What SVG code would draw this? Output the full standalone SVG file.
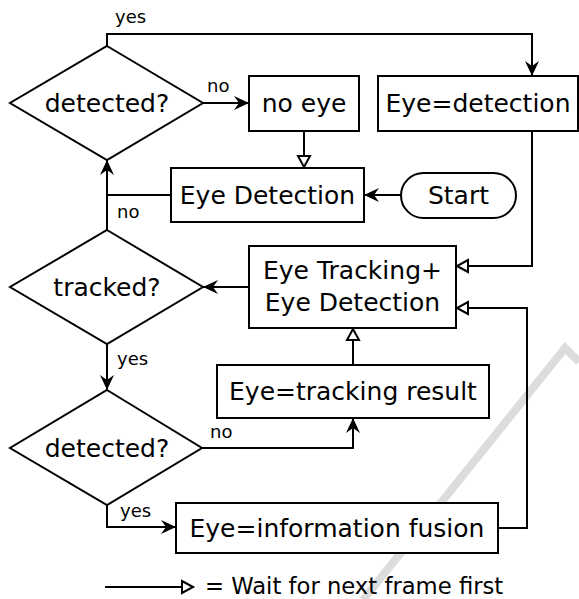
<svg xmlns="http://www.w3.org/2000/svg" width="579" height="599" viewBox="0 0 579 599">
<defs>
<style>
.box{fill:#fff;stroke:#000;stroke-width:2}
.t{font-family:"DejaVu Sans",sans-serif;font-size:25px;fill:#000;text-anchor:middle}
.lbl{font-family:"DejaVu Sans",sans-serif;font-size:18px;fill:#000}
.c{fill:none;stroke:#000;stroke-width:2}
.f{marker-end:url(#af)}
.h{marker-end:url(#ah)}
</style>
<marker id="af" markerUnits="userSpaceOnUse" viewBox="-16 -8 18 16" refX="0" refY="0" markerWidth="18" markerHeight="16" orient="auto" overflow="visible">
<path d="M0,0 L-15,-7 L-10,0 L-15,7 Z" fill="#000"/>
</marker>
<marker id="ah" markerUnits="userSpaceOnUse" viewBox="-14 -8 16 16" refX="0" refY="0" markerWidth="16" markerHeight="16" orient="auto" overflow="visible">
<path d="M-1,0 L-12,-6 L-12,6 Z" fill="#fff" stroke="#000" stroke-width="2" stroke-linejoin="miter"/>
</marker>
</defs>
<rect width="579" height="599" fill="#fff"/>
<g id="watermark">
<polyline points="363,600 565,348 579,362" fill="none" stroke="#dcdcdc" stroke-width="8"/>
</g>
<g id="connectors">
<path class="c f" d="M107,46 V34 H532 V76"/>
<path class="c f" d="M203,103 H249"/>
<path class="c h" d="M304,131 V168"/>
<path class="c f" d="M401,195 H364"/>
<path class="c" d="M171,195 H107"/>
<path class="c f" d="M107,230 V160"/>
<path class="c h" d="M532,131 V266 H456"/>
<path class="c f" d="M249,287 H203"/>
<path class="c f" d="M107,344 V390"/>
<path class="c h" d="M353,365 V328"/>
<path class="c f" d="M202,448 H353 V418"/>
<path class="c f" d="M107,505 V527 H176"/>
<path class="c h" d="M498,528 H527 V308 H456"/>
<text class="lbl" x="115" y="23">yes</text>
<text class="lbl" x="207" y="92">no</text>
<text class="lbl" x="117" y="218">no</text>
<text class="lbl" x="117" y="365">yes</text>
<text class="lbl" x="210" y="438">no</text>
<text class="lbl" x="120" y="517">yes</text>
</g>
<g id="detected1">
<polygon class="box" points="107,46 203,103 107,160 10,103"/>
<text class="t" x="107" y="112">detected?</text>
</g>
<g id="noeye">
<rect class="box" x="249" y="76" width="110" height="55"/>
<text class="t" x="304" y="112">no eye</text>
</g>
<g id="eyedetectionresult">
<rect class="box" x="378" y="76" width="200" height="55"/>
<text class="t" x="478" y="112">Eye=detection</text>
</g>
<g id="eyedetection">
<rect class="box" x="171" y="168" width="193" height="54"/>
<text class="t" x="267.5" y="204">Eye Detection</text>
</g>
<g id="start">
<rect class="box" x="401" y="173" width="115" height="45" rx="22.5"/>
<text class="t" x="458.5" y="204">Start</text>
</g>
<g id="tracked">
<polygon class="box" points="107,230 203,287 107,344 10,287"/>
<text class="t" x="107" y="296">tracked?</text>
</g>
<g id="tracking">
<rect class="box" x="249" y="246" width="207" height="82"/>
<text class="t" x="352.5" y="279">Eye Tracking+</text>
<text class="t" x="352.5" y="311">Eye Detection</text>
</g>
<g id="trackingresult">
<rect class="box" x="217" y="365" width="272" height="53"/>
<text class="t" x="353" y="400">Eye=tracking result</text>
</g>
<g id="detected2">
<polygon class="box" points="107,390 202,448 107,505 10,448"/>
<text class="t" x="107" y="457">detected?</text>
</g>
<g id="fusion">
<rect class="box" x="176" y="503" width="322" height="50"/>
<text class="t" x="337" y="537">Eye=information fusion</text>
</g>
<g id="legend">
<path class="c h" d="M105,587 H194"/>
<text class="lbl" x="205" y="594" style="font-size:22.7px">= Wait for next frame first</text>
</g>
</svg>
